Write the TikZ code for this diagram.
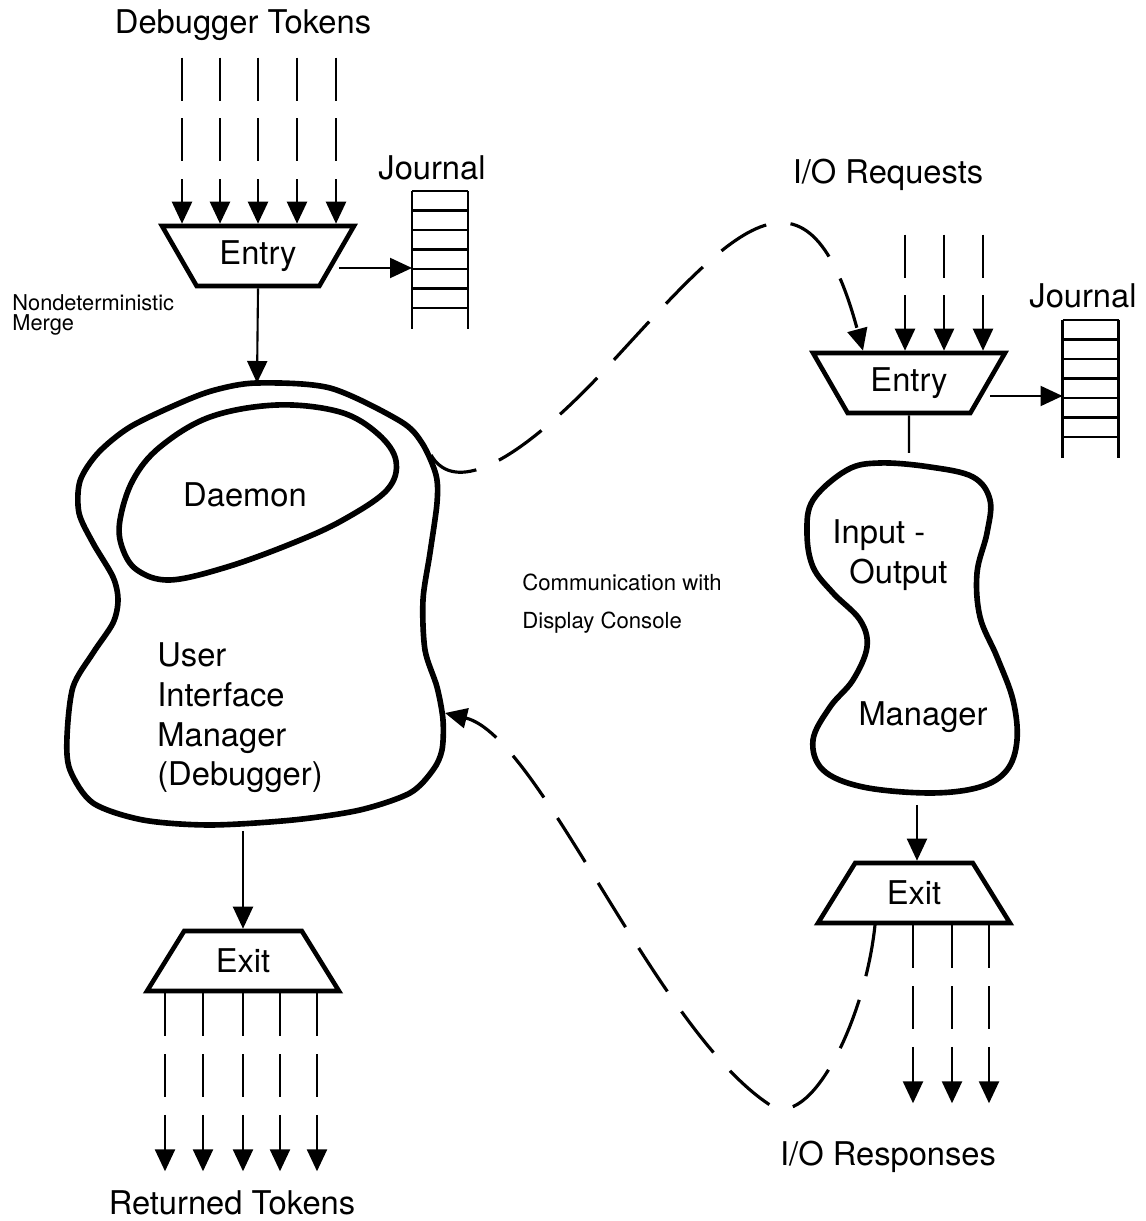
\documentclass[tikz,border=0pt]{standalone}
\usepackage{fontspec}
\setmainfont{TeX Gyre Heros}
\usetikzlibrary{arrows.meta,calc,shapes.geometric}

\begin{document}
\begin{tikzpicture}[
  every node/.style={font=\fontsize{9.3}{11.3}\selectfont},
  small/.style={font=\fontsize{6.3}{11}\selectfont, align=left},
  entrygate/.style={trapezium, draw, line width=1.3pt, trapezium left angle=58, trapezium right angle=58,
    trapezium stretches=true, shape border rotate=180, minimum width=1.92cm, minimum height=0.6cm, inner sep=1pt},
  exitgate/.style={entrygate, shape border rotate=0},
  journal/.style={minimum width=0.56cm, minimum height=1.38cm, inner sep=0pt, outer sep=0pt},
  blob/.style={line width=1.6pt},
  tip/.style={-{Triangle[length=0.22cm, width=0.2cm]}},
  tok/.style={tip, line width=0.7pt, dash pattern=on 12.2pt off 5.1pt},
  arr/.style={tip, line width=0.6pt},
  link/.style={tip, line width=0.9pt, dash pattern=on 14.8pt off 7pt}
]
\useasboundingbox (0,0) rectangle (11.46,12.21);

% debugger side
\node (tokL) at (2.43,11.96) {Debugger Tokens};
\node[entrygate] (entryL) at (2.58,9.65) {Entry};
\node (jlabL) at (4.32,10.53) {Journal};
\node[journal] (jourL) at (4.40,9.61) {};
\node[font=\fontsize{6.2}{5.8}\selectfont, align=left, anchor=west] (merge) at (0.0,9.06) {Nondeterministic\\Merge};

\draw[blob] plot[smooth cycle, tension=0.5] coordinates {
  (2.57,8.38) (3.30,8.33) (4.00,8.00) (4.22,7.78) (4.36,7.46) (4.37,7.18) (4.30,6.68)
  (4.23,6.21) (4.25,5.71) (4.37,5.34) (4.43,5.01) (4.42,4.71) (4.33,4.51) (4.10,4.28)
  (3.60,4.11) (2.93,4.01) (2.10,3.96) (1.43,4.01) (0.93,4.18) (0.70,4.51) (0.67,4.84)
  (0.73,5.34) (0.93,5.68) (1.13,5.98) (1.18,6.21) (1.13,6.44) (0.93,6.78) (0.79,7.08)
  (0.80,7.40) (0.98,7.68) (1.30,7.94) (1.80,8.18) (2.15,8.31)};
\draw[blob] plot[smooth cycle, tension=0.6] coordinates {
  (1.20,7.01) (1.33,7.41) (1.60,7.74) (2.10,8.04) (2.77,8.16) (3.40,8.09) (3.78,7.87)
  (3.96,7.60) (3.87,7.31) (3.43,7.01) (2.93,6.78) (2.27,6.54) (1.70,6.41) (1.37,6.51) (1.22,6.74)};
\coordinate (uimTop) at (2.57,8.38);
\coordinate (uimBot) at (2.45,3.90);
\coordinate (uimNE) at (4.31,7.66);
\coordinate (uimE) at (4.45,5.08);
\node (daemon) at (2.45,7.26) {Daemon};
\node[align=left] (uim) at (2.40,5.03) {User\\Interface\\Manager\\(Debugger)};

\node[exitgate] (exitL) at (2.43,2.60) {Exit};
\node (retL) at (2.32,0.18) {Returned Tokens};

\foreach \dx in {-0.76,-0.38,0,0.39,0.78}
  \draw[tok] ($(entryL.north)+(\dx,1.66)$) -- ($(entryL.north)+(\dx,0)$);
\foreach \dx in {-0.78,-0.40,0,0.37,0.74}
  \draw[tok] ($(exitL.south)+(\dx,0)$) -- ($(exitL.south)+(\dx,-1.78)$);
\draw[arr] ([yshift=-0.12cm]entryL.east) -- ([yshift=-0.12cm]entryL.east -| jourL.west);
\draw[arr] (entryL.south) -- (uimTop);
\draw[arr] (exitL.north |- uimBot) -- (exitL.north);

% i/o side
\node (tokR) at (8.88,10.46) {I/O Requests};
\node[entrygate] (entryR) at (9.09,8.38) {Entry};
\node (jlabR) at (10.83,9.25) {Journal};
\node[journal] (jourR) at (10.905,8.32) {};

\draw[blob] plot[smooth cycle, tension=0.6] coordinates {
  (8.47,7.51) (8.80,7.58) (9.30,7.54) (9.73,7.44) (9.90,7.21) (9.87,6.88) (9.77,6.48)
  (9.80,6.04) (9.97,5.64) (10.13,5.21) (10.17,4.81) (10.07,4.51) (9.80,4.34) (9.30,4.28)
  (8.63,4.34) (8.23,4.51) (8.13,4.81) (8.30,5.14) (8.53,5.41) (8.67,5.74) (8.60,6.01)
  (8.33,6.28) (8.13,6.54) (8.07,6.88) (8.13,7.21)};
\coordinate (ioTop) at (9.09,7.68);
\coordinate (ioBot) at (9.17,4.16);
\node[align=left, anchor=west] (io) at (8.20,6.66) {Input -\\\hspace{0.17cm}Output};
\node (ioMgr) at (9.23,5.04) {Manager};

\node[exitgate] (exitR) at (9.14,3.28) {Exit};
\node (respR) at (8.88,0.64) {I/O Responses};
\coordinate (exitSW) at (8.75,2.96);

\foreach \dx in {-0.04,0.35,0.74}
  \draw[tok] ($(entryR.north)+(\dx,1.16)$) -- ($(entryR.north)+(\dx,0)$);
\foreach \dx in {-0.01,0.38,0.75}
  \draw[tok] ($(exitR.south)+(\dx,0)$) -- ($(exitR.south)+(\dx,-1.78)$);
\draw[arr] ([yshift=-0.13cm]entryR.east) -- ([yshift=-0.13cm]entryR.east -| jourR.west);
\draw[line width=0.6pt] (entryR.south) -- (ioTop);
\draw[arr] (ioBot) -- (ioBot |- exitR.north);

% journals: open-bottomed stacks
\foreach \j in {jourL,jourR} {
  \draw[line width=0.7pt] (\j.north west) -- (\j.south west) (\j.north east) -- (\j.south east);
  \foreach \k in {0,...,6}
    \draw[line width=0.7pt] ([yshift=-\k*0.195cm]\j.north west) -- ([yshift=-\k*0.195cm]\j.north east);
}

% display console traffic
\node[small, anchor=west] (console) at (5.10,6.175) {Communication with\\Display Console};
\draw[link] (uimNE) .. controls (4.50,7.33) and (5.00,7.41) .. (6.00,8.46)
  .. controls (7.25,9.81) and (8.05,10.86) .. ([xshift=-0.46cm]entryR.north);
\draw[link] (exitSW) .. controls (8.65,2.00) and (8.10,0.90) .. (7.70,1.16)
  .. controls (6.55,1.91) and (5.40,4.85) .. (uimE);
\end{tikzpicture}
\end{document}
